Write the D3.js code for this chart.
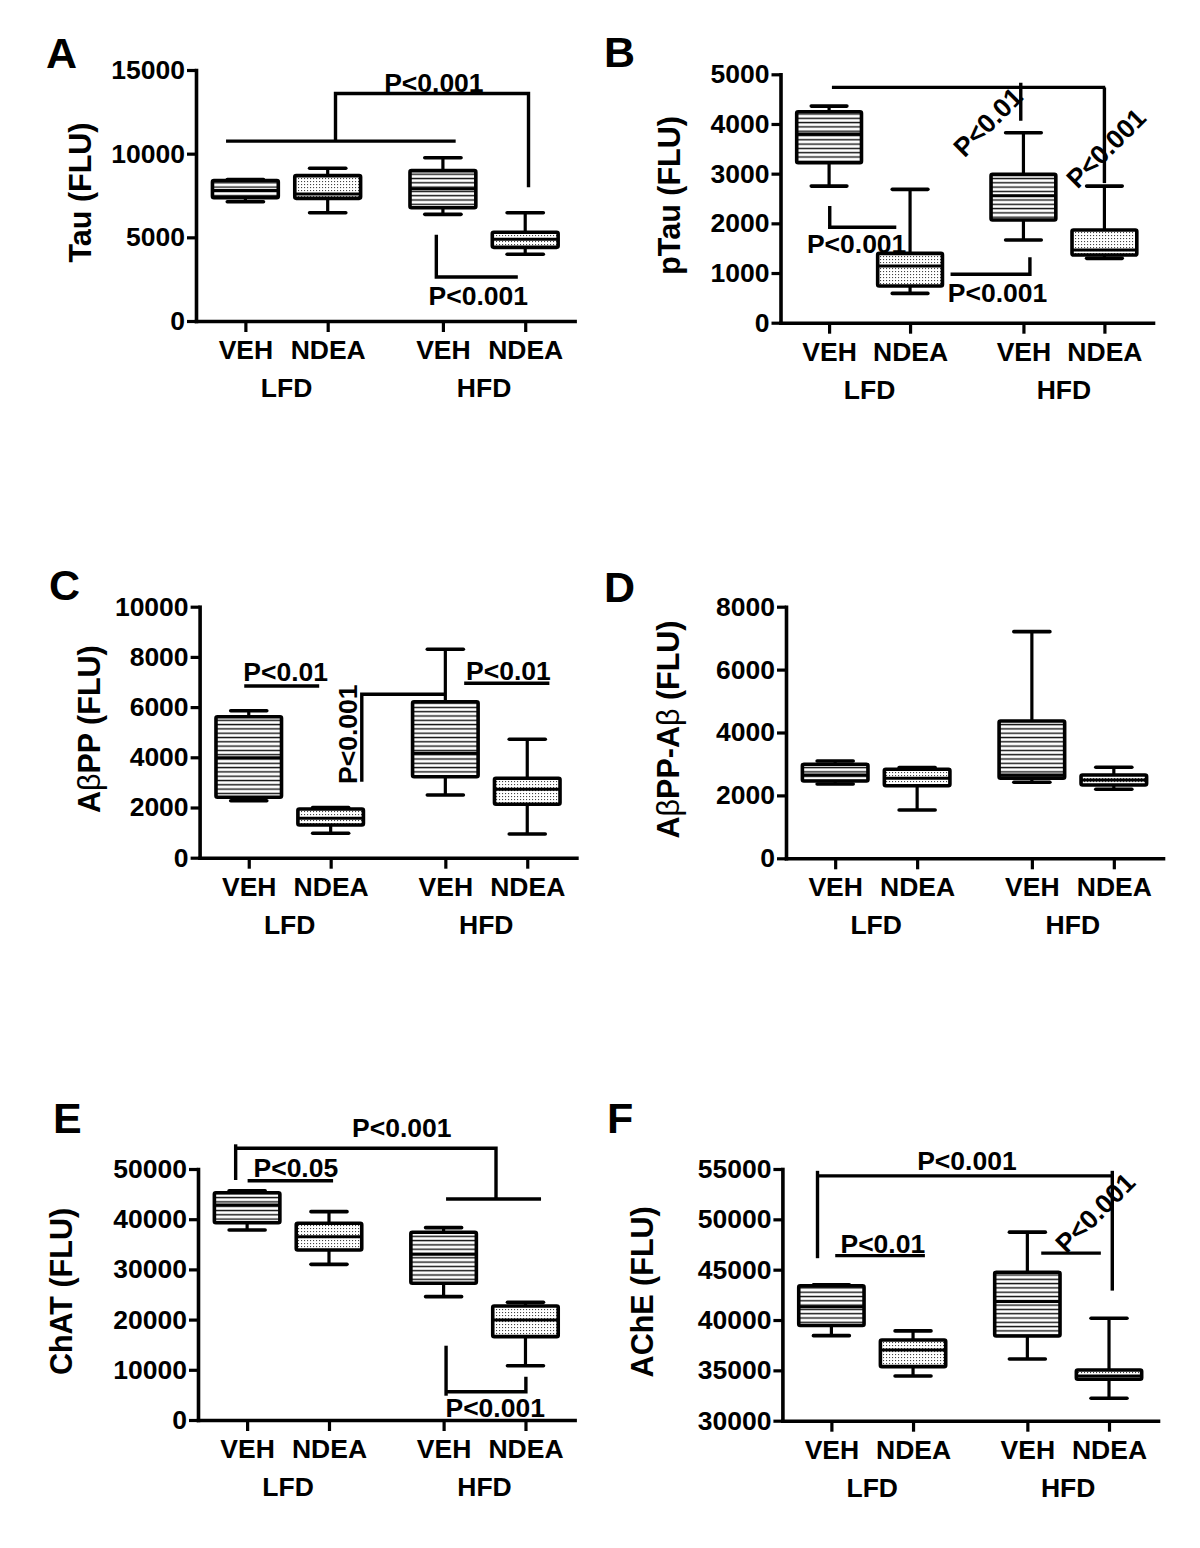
<!DOCTYPE html>
<html><head><meta charset="utf-8">
<script src="https://cdn.jsdelivr.net/npm/d3@7"></script>
<style>
body{margin:0;background:#fff}
text{font-family:"Liberation Sans",Arial,sans-serif;font-weight:bold;fill:#000}
</style>
</head><body>
<svg id="chart" width="1200" height="1548"></svg>
<script>
// ---------------- DATA ----------------
const treatments = ["VEH", "NDEA", "VEH", "NDEA"];
const diets = ["LFD", "HFD"];
const groupPos = [0, 1, 2.4, 3.4];
const dietPos = [0.5, 2.9];

// five-number summaries per group: [min, q1, median, q3, max]
const tauStats = [[7130, 7370, 7800, 8400, 8450], [6470, 7330, 7590, 8690, 9125], [6375, 6770, 7900, 8985, 9760], [3985, 4400, 4880, 5300, 6470]];
const pTauStats = [[2750, 3220, 3800, 4245, 4360], [590, 738, 1140, 1396, 2684], [1664, 2066, 2556, 2985, 3823], [1295, 1362, 1463, 1865, 2750]];
const abppStats = [[2271, 2406, 3984, 5617, 5857], [972, 1303, 1570, 1940, 2000], [2498, 3227, 4159, 6215, 8303], [944, 2127, 2725, 3163, 4717]];
const abetaStats = [[2363, 2458, 2649, 2989, 3094], [1536, 2309, 2544, 2830, 2882], [2417, 2544, 2649, 4366, 7206], [2194, 2331, 2490, 2649, 2894]];
const chatStats = [[37850, 39300, 42830, 45280, 45680], [31010, 33870, 36520, 39180, 41500], [24570, 27230, 33010, 37390, 38320], [10820, 16600, 19920, 22710, 23440]];
const acheStats = [[38450, 39450, 41330, 43390, 43500], [34440, 35370, 37030, 38020, 38920], [36130, 38420, 41830, 44750, 48730], [32230, 34110, 34440, 35040, 40180]];

// tick labels
const tauTicks = [0, 5000, 10000, 15000];
const pTauTicks = [0, 1000, 2000, 3000, 4000, 5000];
const abppTicks = [0, 2000, 4000, 6000, 8000, 10000];
const abetaTicks = [0, 2000, 4000, 6000, 8000];
const chatTicks = [0, 10000, 20000, 30000, 40000, 50000];
const acheTicks = [30000, 35000, 40000, 45000, 50000, 55000];

// significance brackets: polylines in [group position, value]
const tauBrackets = [
  [[-0.235, 10750], [2.555, 10750]],
  [[1.095, 10750], [1.095, 13600], [3.44, 13600], [3.44, 8000]],
  [[2.32, 5150], [2.32, 2630], [3.31, 2630]]
];
const tauLabels = [
  {t: "P<0.001", u: 2.29, v: 13700, rot: 0},
  {t: "P<0.001", u: 2.83, v: 960, rot: 0}
];
const pTauBrackets = [
  [[0.035, 4736], [3.41, 4736]],
  [[2.367, 4830], [2.367, 4065]],
  [[3.40, 4736], [3.40, 2810]],
  [[0.008, 2348], [0.008, 1920], [0.83, 1920]],
  [[1.50, 975], [2.48, 975], [2.48, 1316]]
];
const pTauLabels = [
  {t: "P<0.01", u: 1.96, v: 4040, rot: -45},
  {t: "P<0.001", u: 3.42, v: 3515, rot: -45},
  {t: "P<0.001", u: 0.34, v: 1408, rot: 0},
  {t: "P<0.001", u: 2.08, v: 423, rot: 0}
];
const abppBrackets = [
  [[-0.055, 6840], [0.86, 6840]],
  [[2.63, 6948], [3.67, 6948]],
  [[2.39, 6510], [1.38, 6510], [1.38, 3028]]
];
const abppLabels = [
  {t: "P<0.01", u: 0.45, v: 7052, rot: 0},
  {t: "P<0.01", u: 3.17, v: 7080, rot: 0},
  {t: "P<0.001", u: 1.32, v: 4920, rot: -90}
];
const chatBrackets = [
  [[-0.14, 47810], [-0.14, 54920]],
  [[-0.14, 54120], [3.04, 54120], [3.04, 44020]],
  [[2.43, 44020], [3.59, 44020]],
  [[0.006, 47670], [1.05, 47670]],
  [[2.43, 14800], [2.43, 4840]],
  [[2.43, 5640], [3.405, 5640], [3.405, 8630]]
];
const chatLabels = [
  {t: "P<0.001", u: 1.89, v: 56310, rot: 0},
  {t: "P<0.05", u: 0.595, v: 48470, rot: 0},
  {t: "P<0.001", u: 3.03, v: 660, rot: 0}
];
const acheBrackets = [
  [[-0.17, 54820], [-0.17, 46140]],
  [[-0.17, 54320], [3.44, 54320]],
  [[3.44, 54820], [3.44, 42920]],
  [[0.047, 46400], [1.145, 46400]],
  [[2.57, 46640], [3.30, 46640]]
];
const acheLabels = [
  {t: "P<0.001", u: 1.66, v: 54920, rot: 0},
  {t: "P<0.01", u: 0.63, v: 46700, rot: 0},
  {t: "P<0.001", u: 3.23, v: 50650, rot: -45}
];

// ---------------- DRAWING ----------------
const svg = d3.select("#chart");
svg.append("rect").attr("width", 1200).attr("height", 1548).attr("fill", "#fff");
const defs = svg.append("defs");
const ph = defs.append("pattern").attr("id", "hlines").attr("patternUnits", "userSpaceOnUse")
  .attr("width", 8).attr("height", 4.3);
ph.append("rect").attr("width", 8).attr("height", 4.3).attr("fill", "#fff");
ph.append("rect").attr("y", 1.5).attr("width", 8).attr("height", 1.4).attr("fill", "#111");
const pd = defs.append("pattern").attr("id", "dots").attr("patternUnits", "userSpaceOnUse")
  .attr("width", 3).attr("height", 3);
pd.append("rect").attr("width", 3).attr("height", 3).attr("fill", "#fff");
pd.append("rect").attr("x", 1).attr("y", 1).attr("width", 1.1).attr("height", 1.1).attr("fill", "#444");

const SW = 3.6;
const FS = 26.5;

function drawPanel(cfg) {
  const g = svg.append("g");
  const x = d3.scaleLinear().domain([-0.6, 4.0]).range([cfg.left, cfg.right]);
  const y = d3.scaleLinear().domain([cfg.ticks[0], cfg.ticks[cfg.ticks.length - 1]]).range([cfg.bottom, cfg.top]);

  // Y axis
  const ya = g.append("g").attr("transform", `translate(${cfg.left},0)`)
    .call(d3.axisLeft(y).tickValues(cfg.ticks).tickSize(9).tickSizeOuter(0).tickPadding(2).tickFormat(d3.format("d")));
  ya.select(".domain").attr("stroke-width", SW).attr("stroke-linecap", "square");
  ya.selectAll(".tick line").attr("stroke-width", 3.2);
  ya.selectAll(".tick text").attr("font-size", FS).attr("font-family", "Liberation Sans, Arial, sans-serif").attr("font-weight", "bold");

  // X axis
  const xa = g.append("g").attr("transform", `translate(0,${cfg.bottom})`)
    .call(d3.axisBottom(x).tickValues(groupPos).tickSize(11).tickSizeOuter(0).tickPadding(8)
      .tickFormat((d, i) => treatments[i]));
  xa.select(".domain").attr("stroke-width", SW).attr("stroke-linecap", "square");
  xa.selectAll(".tick line").attr("stroke-width", 3.2);
  xa.selectAll(".tick text").attr("font-size", FS).attr("font-family", "Liberation Sans, Arial, sans-serif").attr("font-weight", "bold");

  // diet labels
  g.selectAll(".diet").data(diets).join("text").attr("class", "diet")
    .attr("x", (d, i) => x(dietPos[i])).attr("y", cfg.bottom + 76)
    .attr("text-anchor", "middle").attr("font-size", FS).text(d => d);

  // Y title
  const yt = g.append("text").attr("transform", `translate(${cfg.titleX},${(cfg.top + cfg.bottom) / 2 - 3}) rotate(-90)`)
    .attr("text-anchor", "middle").attr("dy", "0.35em").attr("font-size", 30.5);
  cfg.title.forEach(p => {
    yt.append("tspan").attr("font-weight", p.n ? "normal" : "bold").text(p.s);
  });

  // panel letter
  g.append("text").attr("x", cfg.letterX).attr("y", cfg.letterY).attr("font-size", 43).text(cfg.letter);

  // boxes
  const bw = x(0.8) - x(0), cw = x(0.44) - x(0);
  cfg.stats.forEach((s, i) => {
    const cx = x(groupPos[i]);
    const bg = g.append("g");
    bg.append("line").attr("x1", cx).attr("x2", cx).attr("y1", y(s[0])).attr("y2", y(s[1])).attr("stroke", "#000").attr("stroke-width", 3.2);
    bg.append("line").attr("x1", cx).attr("x2", cx).attr("y1", y(s[3])).attr("y2", y(s[4])).attr("stroke", "#000").attr("stroke-width", 3.2);
    [s[0], s[4]].forEach(v => bg.append("line").attr("x1", cx - cw / 2).attr("x2", cx + cw / 2)
      .attr("y1", y(v)).attr("y2", y(v)).attr("stroke", "#000").attr("stroke-width", 3.6).attr("stroke-linecap", "round"));
    bg.append("rect").attr("x", cx - bw / 2).attr("y", y(s[3])).attr("width", bw).attr("height", y(s[1]) - y(s[3]))
      .attr("fill", i % 2 === 0 ? "url(#hlines)" : "url(#dots)").attr("stroke", "#000").attr("stroke-width", SW)
      .attr("rx", 1.5);
    bg.append("line").attr("x1", cx - bw / 2).attr("x2", cx + bw / 2).attr("y1", y(s[2])).attr("y2", y(s[2]))
      .attr("stroke", "#000").attr("stroke-width", 3);
  });

  // brackets
  const line = d3.line().x(d => x(d[0])).y(d => y(d[1]));
  cfg.brackets.forEach(b => g.append("path").attr("d", line(b)).attr("fill", "none")
    .attr("stroke", "#000").attr("stroke-width", 3.4));
  cfg.labels.forEach(l => {
    const t = g.append("text").attr("transform", `translate(${x(l.u)},${y(l.v)}) rotate(${l.rot})`)
      .attr("text-anchor", "middle").attr("font-size", FS).text(l.t);
    if (l.rot === -45) t.attr("dy", "0.35em");
  });
}

drawPanel({letter: "A", letterX: 46, letterY: 68, left: 196, right: 574.6, top: 70, bottom: 321, titleX: 80,
  ticks: tauTicks, stats: tauStats, brackets: tauBrackets, labels: tauLabels, title: [{s: "Tau (FLU)"}]});
drawPanel({letter: "B", letterX: 604, letterY: 67, left: 780.5, right: 1153, top: 74.3, bottom: 322.7, titleX: 669,
  ticks: pTauTicks, stats: pTauStats, brackets: pTauBrackets, labels: pTauLabels, title: [{s: "pTau (FLU)"}]});
drawPanel({letter: "C", letterX: 49, letterY: 600, left: 199.6, right: 576.4, top: 606.7, bottom: 857.7, titleX: 89,
  ticks: abppTicks, stats: abppStats, brackets: abppBrackets, labels: abppLabels,
  title: [{s: "A"}, {s: "β", n: true}, {s: "PP (FLU)"}]});
drawPanel({letter: "D", letterX: 604, letterY: 602, left: 786, right: 1163, top: 606.7, bottom: 858.3, titleX: 668,
  ticks: abetaTicks, stats: abetaStats, brackets: [], labels: [],
  title: [{s: "A"}, {s: "β", n: true}, {s: "PP-A"}, {s: "β", n: true}, {s: " (FLU)"}]});
drawPanel({letter: "E", letterX: 53, letterY: 1133, left: 198, right: 574.6, top: 1169, bottom: 1420, titleX: 61,
  ticks: chatTicks, stats: chatStats, brackets: chatBrackets, labels: chatLabels, title: [{s: "ChAT (FLU)"}]});
drawPanel({letter: "F", letterX: 607, letterY: 1133, left: 782.4, right: 1158, top: 1169, bottom: 1420.7, titleX: 642,
  ticks: acheTicks, stats: acheStats, brackets: acheBrackets, labels: acheLabels, title: [{s: "AChE (FLU)"}]});
</script>
</body></html>
